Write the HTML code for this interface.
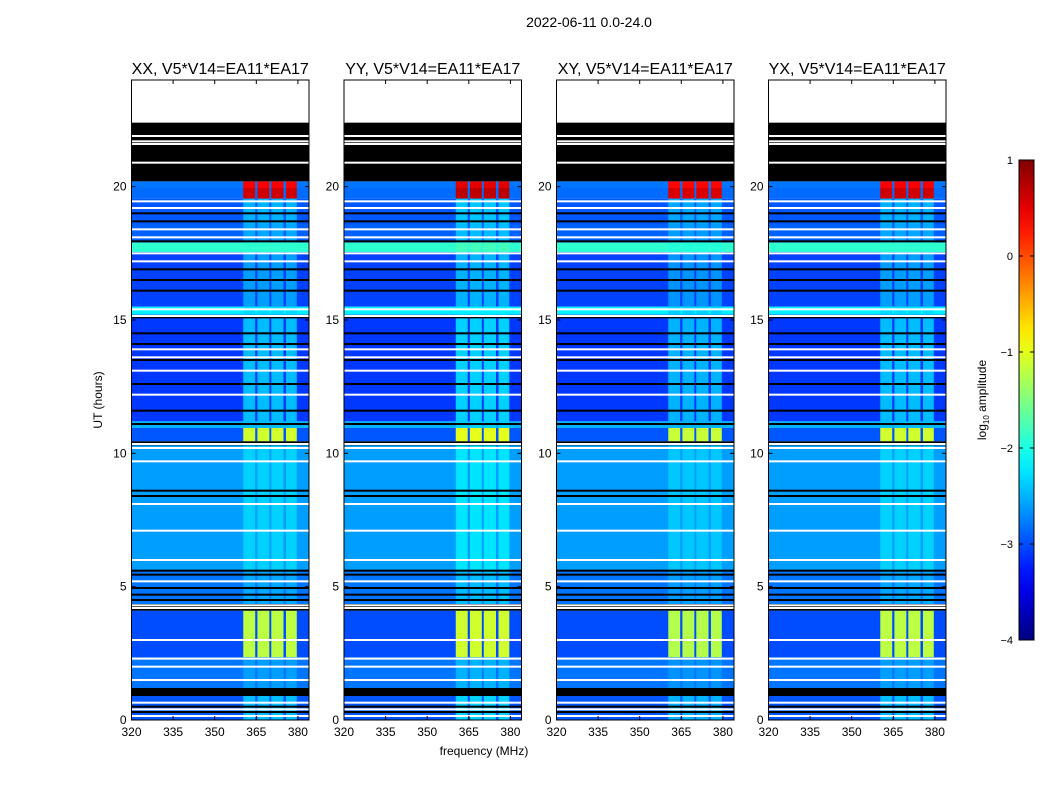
<!DOCTYPE html>
<html><head><meta charset="utf-8">
<style>
body{margin:0;background:#fff;}
svg{display:block;font-family:"Liberation Sans",sans-serif;}
</style></head>
<body>
<svg id="fig" width="1050" height="800" viewBox="0 0 1050 800">
<text x="589" y="27" font-size="14" text-anchor="middle">2022-06-11 0.0-24.0</text>
<text x="484" y="755" font-size="12" text-anchor="middle">frequency (MHz)</text>
<text transform="translate(102,400) rotate(-90)" font-size="12" text-anchor="middle">UT (hours)</text>
<g id="panels"></g>
<g id="cbar"></g>
</svg>
<script>
// ---- data ----
const panelTitles = ["XX, V5*V14=EA11*EA17","YY, V5*V14=EA11*EA17","XY, V5*V14=EA11*EA17","YX, V5*V14=EA11*EA17"];
const panelRfiOffset = [0, 0.1, -0.05, 0];
const segStart = [19.95,19.55,18.6,17.9,17.55,15.5,15.2,11.2,10.95,10.45,5.6,4.35,2.35,1.2,0];
const segEnd   = [20.2,19.95,19.55,18.6,17.9,17.55,15.5,15.2,11.2,10.95,10.3,5.6,4.1,2.35,0.9];
const segBg    = [-2.8,-2.85,-2.95,-2.9,-1.9,-3.05,-2.2,-3.1,-2.5,-2.95,-2.6,-2.8,-3.0,-2.8,-2.95];
const segRfi   = [0.4,0.6,-2.5,-2.55,-1.9,-2.6,-2.3,-2.45,-2.45,-1.1,-2.35,-2.55,-1.2,-2.6,-2.45];
const rfiLo = [360.3,365.4,370.4,375.7];
const rfiHi = [364.6,369.7,374.8,379.6];
const blackBlocks = [[20.2,22.4],[0.9,1.2],[10.3,10.45],[4.1,4.35]];
const whiteLines = [21.9,21.7,21.6,20.9,19.45,19.2,18.4,18.1,17.5,17.2,15.4,15.15,13.9,13.6,13.1,12.2,10.35,10.2,9.7,8.1,7.1,6.0,5.2,4.3,4.2,3.0,2.3,2.0,1.5,0.65,0.4,0.15];
const blackLines = [19.0,18.7,17.95,16.9,16.5,16.1,15.1,14.5,14.1,13.5,12.6,11.6,11.1,8.6,8.4,5.6,5.45,4.95,4.7,4.5,1.1,0.5,0.3];
const xTicks = [320,335,350,365,380];
const yTicks = [0,5,10,15,20];
const cbTicks = [1,0,-1,-2,-3,-4];
const cbLabels = ["1","0","\u22121","\u22122","\u22123","\u22124"];

const NS="http://www.w3.org/2000/svg";
function mk(tag,attrs,parent){const e=document.createElementNS(NS,tag);for(const k in attrs)e.setAttribute(k,attrs[k]);parent.appendChild(e);return e;}
function jet(v){
  const t=Math.max(0,Math.min(1,(v+4)/5));
  const c=x=>Math.round(255*Math.max(0,Math.min(1,x)));
  const r=1.5-Math.abs(4*t-3), g=1.5-Math.abs(4*t-2), b=1.5-Math.abs(4*t-1);
  return `rgb(${c(r)},${c(g)},${c(b)})`;
}
const panelX=[131.5,344,556.5,768.5], PW=177.5, PT=80, PB=720;
const fMin=320, fMax=384, tMax=24;
const panels=document.getElementById('panels');
panelX.forEach((x0,p)=>{
  const sx=f=>x0+(f-fMin)/(fMax-fMin)*PW;
  const sy=h=>PB-h/tMax*(PB-PT);
  const g=mk('g',{},panels);
  
  
  const t=mk('text',{x:x0+PW/2,y:74,'font-size':16,'text-anchor':'middle'},g);
  t.textContent=panelTitles[p];
  
  
  for(let i=0;i<segStart.length;i++){
    const r=mk('rect',{x:x0,y:sy(segEnd[i]),width:PW,height:sy(segStart[i])-sy(segEnd[i]),fill:jet(segBg[i])},g);
    
    
    for(let j=0;j<rfiLo.length;j++){
      const c=mk('rect',{x:sx(rfiLo[j]),y:sy(segEnd[i]),width:sx(rfiHi[j])-sx(rfiLo[j]),height:sy(segStart[i])-sy(segEnd[i]),fill:jet(segRfi[i]+panelRfiOffset[p])},g);
      
      
    }
  }
  blackBlocks.forEach(b=>{
    const r=mk('rect',{x:x0,y:sy(b[1]),width:PW,height:sy(b[0])-sy(b[1]),fill:'#000'},g);
    
    
  });
  blackLines.forEach(h=>{
    const r=mk('rect',{x:x0,y:sy(h)-1,width:PW,height:2,fill:'#000'},g);
    
    
  });
  whiteLines.forEach(h=>{
    const r=mk('rect',{x:x0,y:sy(h)-1,width:PW,height:2,fill:'#fff'},g);
    
    
  });
  const fr=mk('rect',{x:x0,y:PT,width:PW,height:PB-PT,fill:'none',stroke:'#000','stroke-width':1},g);
  
  
  xTicks.forEach(v=>{
    mk('line',{x1:sx(v),x2:sx(v),y1:PB,y2:PB-4,stroke:'#000'},g);
    mk('line',{x1:sx(v),x2:sx(v),y1:PT,y2:PT+4,stroke:'#000'},g);
    const l=mk('text',{x:sx(v),y:PB+16,'font-size':12,'text-anchor':'middle'},g);
    l.textContent=v;
    
    
  });
  yTicks.forEach(v=>{
    mk('line',{x1:x0,x2:x0+4,y1:sy(v),y2:sy(v),stroke:'#000'},g);
    mk('line',{x1:x0+PW,x2:x0+PW-4,y1:sy(v),y2:sy(v),stroke:'#000'},g);
    const l=mk('text',{x:x0-5,y:sy(v)+4,'font-size':12,'text-anchor':'end'},g);
    l.textContent=v;
    
    
  });
});
const cb=document.getElementById('cbar');
const cbX=1019, cbW=15, cbT=160, cbB=640;
const cy=v=>cbB-(v+4)/5*(cbB-cbT);
const defs=mk('defs',{},cb);
const grad=mk('linearGradient',{id:'jetg',x1:0,y1:1,x2:0,y2:0},defs);
for(let i=0;i<=20;i++){mk('stop',{offset:i/20,'stop-color':jet(-4+5*i/20)},grad);}
const bar=mk('rect',{x:cbX,y:cbT,width:cbW,height:cbB-cbT,fill:'url(#jetg)',stroke:'#000','stroke-width':1},cb);


cbTicks.forEach((v,i)=>{
  mk('line',{x1:cbX,x2:cbX+4,y1:cy(v),y2:cy(v),stroke:'#000'},cb);
  mk('line',{x1:cbX+cbW,x2:cbX+cbW-4,y1:cy(v),y2:cy(v),stroke:'#000'},cb);
  const l=mk('text',{x:1013,y:cy(v)+4,'font-size':11,'text-anchor':'end'},cb);
  l.textContent=cbLabels[i];
  
  
});
const ct=mk('text',{transform:'translate(986,400) rotate(-90)','font-size':12,'text-anchor':'middle'},cb);
ct.innerHTML='log<tspan font-size="8" dy="3">10</tspan><tspan dy="-3"> amplitude</tspan>';


</script>
</body></html>
